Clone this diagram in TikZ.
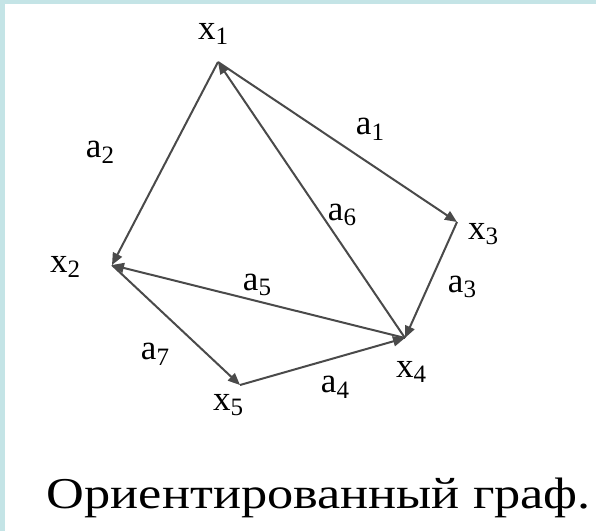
\documentclass[tikz,border=0pt]{standalone}
\usepackage{fontspec}
\setmainfont{Liberation Serif}
\usetikzlibrary{arrows.meta}
\definecolor{framecyan}{HTML}{C4E4E6}
\definecolor{edgegray}{HTML}{4A4A4A}
\newcommand{\lab}[2]{#1\raisebox{-0.35ex}{\fontsize{25}{25}\selectfont #2}}
\begin{document}
\begin{tikzpicture}[x=1pt,y=1pt,
  edge/.style={draw=edgegray,line width=2pt,-{Triangle[length=12pt,width=10pt]}},
  vlab/.style={font=\fontsize{35}{37}\selectfont,inner sep=0pt},
  elab/.style={font=\fontsize{35}{37}\selectfont,inner sep=0pt},
  captionstyle/.style={font=\fontsize{44}{46}\selectfont,inner sep=0pt,xscale=1.19}]
\useasboundingbox (0,0) rectangle (596,531);
\fill[white] (0,0) rectangle (596,531);
\fill[framecyan] (0,0) rectangle (5,531);
\fill[framecyan] (0,527) rectangle (596,531);
% vertices
\coordinate (v1) at (218,469);
\coordinate (v2) at (112,266);
\coordinate (v3) at (457,309);
\coordinate (v4) at (405,193);
\coordinate (v5) at (240,146);
% vertex labels
\node[vlab] (x1) at (213,497) {\lab{x}{1}};
\node[vlab] (x2) at (65,264) {\lab{x}{2}};
\node[vlab] (x3) at (483,297) {\lab{x}{3}};
\node[vlab] (x4) at (411,159) {\lab{x}{4}};
\node[vlab] (x5) at (228,126) {\lab{x}{5}};
% edges
\draw[edge] (v1) -- (v3);
\draw[edge] (v1) -- (v2);
\draw[edge] (v3) -- (v4);
\draw[edge] (v5) -- (v4);
\draw[edge] (v4) -- (v2);
\draw[edge] (v4) -- (v1);
\draw[edge] (v2) -- (v5);
% edge labels
\node[elab] (a1) at (370,402) {\lab{a}{1}};
\node[elab] (a2) at (100,379) {\lab{a}{2}};
\node[elab] (a3) at (462,244) {\lab{a}{3}};
\node[elab] (a4) at (335,144) {\lab{a}{4}};
\node[elab] (a5) at (257,246) {\lab{a}{5}};
\node[elab] (a6) at (342,316) {\lab{a}{6}};
\node[elab] (a7) at (155,177) {\lab{a}{7}};
% caption
\node[captionstyle] (caption) at (319,33) {Ориентированный граф.};
\end{tikzpicture}
\end{document}
